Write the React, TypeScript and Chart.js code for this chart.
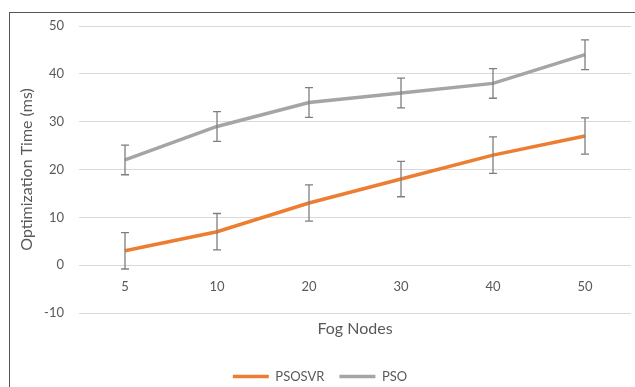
import React, { useEffect, useRef } from "react";
import { Chart, registerables } from "chart.js";

Chart.register(...registerables);

const categories = ["5", "10", "20", "30", "40", "50"];
const psosvrValues = [3, 7, 13, 18, 23, 27];
const psoValues = [22, 29, 34, 36, 38, 44];
const psosvrErrors = [3.8, 3.8, 3.8, 3.7, 3.8, 3.8];
const psoErrors = [3.1, 3.1, 3.1, 3.1, 3.1, 3.1];
const yMin = -10;
const yMax = 50;
const yStep = 10;

const errorSets = [psosvrErrors, psoErrors];

const errorBarPlugin = {
  id: "errorBars",
  afterDatasetsDraw(chart: any) {
    const ctx = chart.ctx;
    const yScale = chart.scales.y;
    chart.data.datasets.forEach((ds: any, i: number) => {
      const meta = chart.getDatasetMeta(i);
      const errs = errorSets[i];
      meta.data.forEach((pt: any, j: number) => {
        const v = ds.data[j];
        const e = errs[j];
        const top = yScale.getPixelForValue(v + e);
        const bot = yScale.getPixelForValue(v - e);
        const x = pt.x;
        ctx.save();
        ctx.strokeStyle = "#7f7f7f";
        ctx.lineWidth = 1.3;
        ctx.beginPath();
        ctx.moveTo(x, top);
        ctx.lineTo(x, bot);
        ctx.moveTo(x - 4, top);
        ctx.lineTo(x + 4, top);
        ctx.moveTo(x - 4, bot);
        ctx.lineTo(x + 4, bot);
        ctx.stroke();
        ctx.restore();
      });
    });
  },
};

export default function App() {
  const ref = useRef<HTMLCanvasElement>(null);
  useEffect(() => {
    if (!ref.current) return;
    const textColor = "#595959";
    const chart = new Chart(ref.current, {
      type: "line",
      data: {
        labels: categories,
        datasets: [
          {
            label: "PSOSVR",
            data: psosvrValues,
            borderColor: "#ED7D31",
            backgroundColor: "#ED7D31",
            borderWidth: 3.5,
            pointRadius: 0,
            pointStyle: "line",
            tension: 0,
          },
          {
            label: "PSO",
            data: psoValues,
            borderColor: "#A5A5A5",
            backgroundColor: "#A5A5A5",
            borderWidth: 3.5,
            pointRadius: 0,
            pointStyle: "line",
            tension: 0,
          },
        ],
      },
      options: {
        responsive: false,
        animation: false,
        layout: { padding: { top: 26, left: 9, right: 4, bottom: -6 } },
        font: { family: "Lato" },
        scales: {
          x: {
            type: "category",
            offset: true,
            grid: { display: false, drawTicks: false },
            border: { display: false },
            ticks: {
              color: textColor,
              font: { family: "Lato", size: 13 },
              mirror: true,
              padding: 18,
            },
            title: {
              display: true,
              text: "Fog Nodes",
              color: textColor,
              font: { family: "Lato", size: 16 },
              padding: { top: 0, bottom: 17 },
            },
            afterFit: (s: any) => {
              s.height = 42;
            },
          },
          y: {
            min: yMin,
            max: yMax,
            ticks: {
              stepSize: yStep,
              color: textColor,
              font: { family: "Lato", size: 13 },
              padding: 15,
            },
            grid: { color: "#D9D9D9", drawTicks: false, lineWidth: 1 },
            border: { display: false },
            title: {
              display: true,
              text: "Optimization Time (ms)",
              color: textColor,
              font: { family: "Lato", size: 16 },
              padding: { top: 8, bottom: 0 },
            },
            afterFit: (s: any) => {
              s.width = 70;
            },
          },
        },
        plugins: {
          legend: {
            position: "bottom",
            labels: {
              usePointStyle: true,
              pointStyle: "line",
              pointStyleWidth: 36,
              color: textColor,
              font: { family: "Lato", size: 13 },
              padding: 15,
            },
          },
          tooltip: { enabled: false },
        },
      },
      plugins: [errorBarPlugin],
    } as any);
    return () => chart.destroy();
  }, []);

  return (
    <div style={{ position: "fixed", left: 0, top: 0, width: 635, height: 387, background: "#fff" }}>
      <canvas ref={ref} width={635} height={387} style={{ display: "block" }} />
      <div
        style={{
          position: "absolute",
          left: 9,
          top: 12,
          width: 700,
          height: 500,
          borderLeft: "1px solid #555",
          borderTop: "1px solid #555",
          pointerEvents: "none",
        }}
      />
    </div>
  );
}
